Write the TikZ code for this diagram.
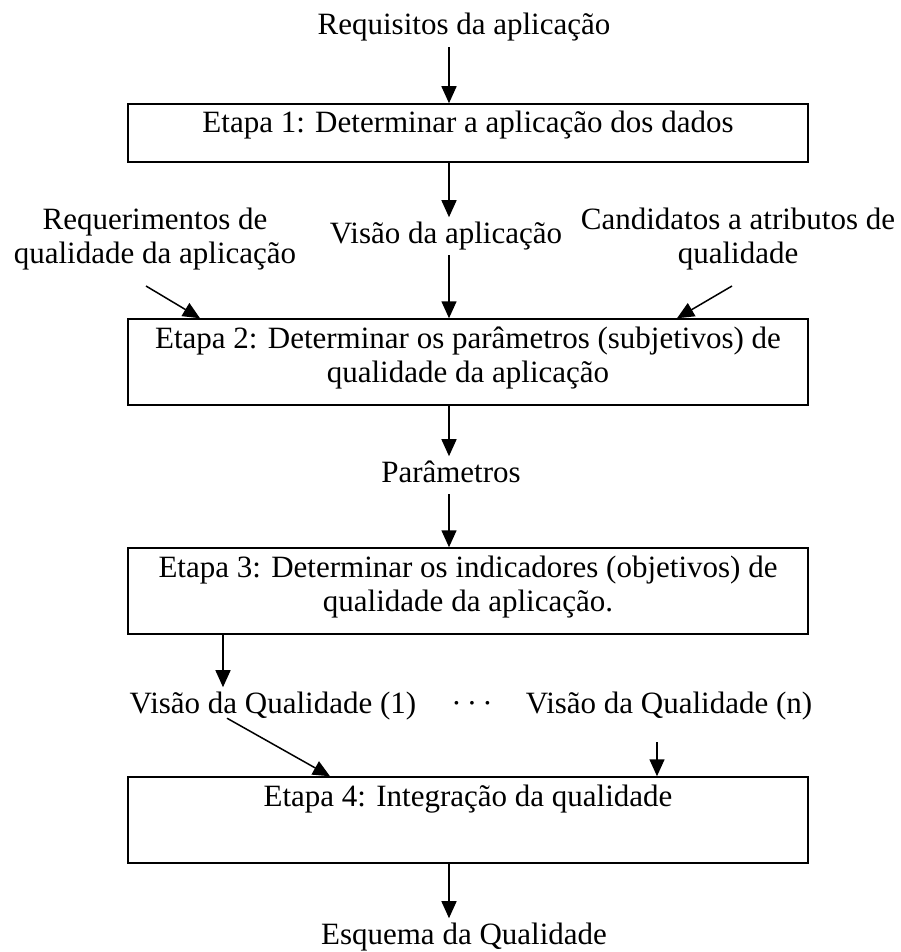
\documentclass[tikz,border=0pt]{standalone}
\usepackage{fontspec}
\setmainfont{Liberation Serif}
\usetikzlibrary{arrows.meta}

\tikzset{
  etapa/.style={draw, line width=1.5pt, inner sep=0pt},
  rotulo/.style={inner sep=0pt, outer sep=2pt, align=center},
  seta/.style={line width=1.5pt, -{Triangle[length=17pt,width=15pt]}}
}
\newcommand{\etapatexto}[2]{\parbox[c][#1][t]{680pt}{\centering\rule{0pt}{29pt}#2}}

\begin{document}
\begin{tikzpicture}[x=1pt, y=-1pt, font=\fontsize{31}{34}\selectfont]
\useasboundingbox (0,0) rectangle (901,952);

\coordinate (eixo) at (449,0);

% etapas
\node[etapa] (e1) at (468,133) {\etapatexto{58pt}{Etapa 1: Determinar a aplicação dos dados}};
\node[etapa] (e2) at (468,362) {\etapatexto{86pt}{Etapa 2: Determinar os parâmetros (subjetivos) de\\qualidade da aplicação}};
\node[etapa] (e3) at (468,591) {\etapatexto{86pt}{Etapa 3: Determinar os indicadores (objetivos) de\\qualidade da aplicação.}};
\node[etapa] (e4) at (468,820) {\etapatexto{86pt}{Etapa 4: Integração da qualidade}};

% textos
\node[rotulo, anchor=base] (req) at (464,35) {\strut Requisitos da aplicação};
\node[rotulo, anchor=base] (vis) at (446,243) {\strut Visão da aplicação};
\node[rotulo] (rq) at (155,240) {\strut Requerimentos de\\\strut qualidade da aplicação};
\node[rotulo] (cq) at (738,240) {\strut Candidatos a atributos de\\\strut qualidade};
\node[rotulo, anchor=base] (par) at (451,482) {\strut Parâmetros};
\node[rotulo, anchor=base] (vq1) at (273,713) {\strut Visão da Qualidade (1)};
\node[rotulo, anchor=base] (pts) at (472,713) {\strut ·\,·\,·};
\node[rotulo, anchor=base] (vqn) at (669,713) {\strut Visão da Qualidade (n)};
\node[rotulo, anchor=base] (esq) at (464,944) {\strut Esquema da Qualidade};

% setas
\draw[seta] (req.south -| eixo) -- (e1.north -| eixo);
\draw[seta] (e1.south -| eixo) -- (vis.north -| eixo);
\draw[seta] (vis.south -| eixo) -- (e2.north -| eixo);
\draw[seta] ([shift={(-9,10)}]rq.south) -- ([xshift=-268pt]e2.north);
\draw[seta] ([shift={(-6,10)}]cq.south) -- ([xshift=209pt]e2.north);
\draw[seta] (e2.south -| eixo) -- (par.north -| eixo);
\draw[seta] (par.south -| eixo) -- (e3.north -| eixo);
\draw[seta] ([xshift=-245pt]e3.south) -- ([xshift=-50pt]vq1.north);
\draw[seta] ([shift={(-46,-7)}]vq1.south) -- ([xshift=-138pt]e4.north);
\draw[seta] ([shift={(-12,17)}]vqn.south) -- ([xshift=189pt]e4.north);
\draw[seta] (e4.south -| eixo) -- (esq.north -| eixo);

\end{tikzpicture}
\end{document}
